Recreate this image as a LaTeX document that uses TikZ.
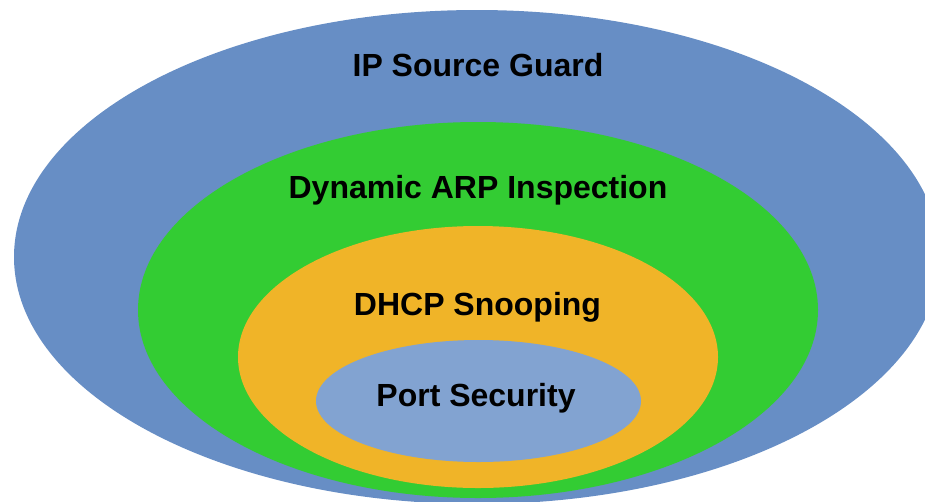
\documentclass[tikz,border=0pt]{standalone}
\usepackage{fontspec}
\setmainfont{Liberation Sans}
\usepackage{tikz}
\definecolor{guardblue}{HTML}{678EC5}
\definecolor{arpgreen}{HTML}{33CC33}
\definecolor{dhcporange}{HTML}{F0B428}
\definecolor{portblue}{HTML}{82A3D1}
\tikzset{layer/.style={font=\bfseries\fontsize{32}{38}\selectfont,anchor=base,inner sep=0pt}}
\begin{document}
\begin{tikzpicture}[x=1pt,y=-1pt]
\useasboundingbox (0,0) rectangle (925,501);
%Построение вложенных эллипсов
\begin{scope}
\clip (0,0) rectangle (925,501);
\fill[guardblue] (477,257) ellipse [x radius=463, y radius=247];
\end{scope}
\fill[arpgreen] (478,310) ellipse [x radius=340, y radius=188];
\fill[dhcporange] (478,357) ellipse [x radius=240, y radius=131];
\fill[portblue] (478.5,401) ellipse [x radius=162.5, y radius=61];
%Подписи уровней
\node [layer] (guard) at (478,76) {IP Source Guard};
\node [layer] (arp) at (478,198.3) {Dynamic ARP Inspection};
\node [layer] (dhcp) at (477.5,315) {DHCP Snooping};
\node [layer] (port) at (476,406.7) {Port Security};
\end{tikzpicture}
\end{document}
